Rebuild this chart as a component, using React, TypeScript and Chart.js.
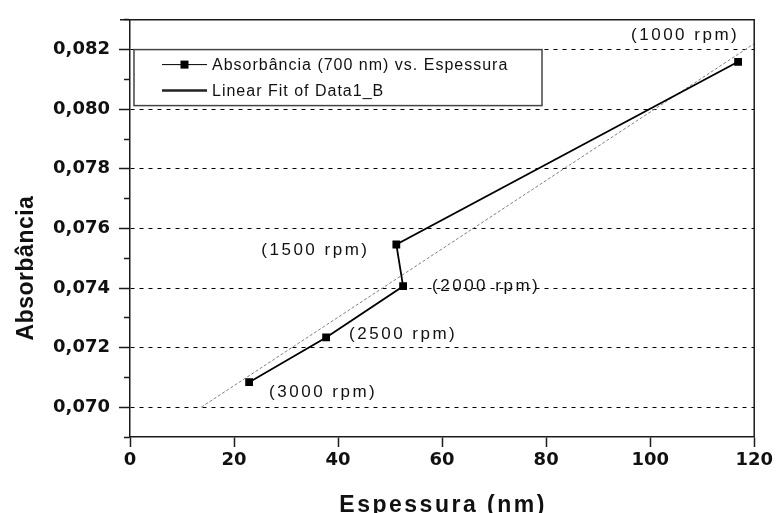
import React, { useEffect, useRef } from 'react';
import { Chart, registerables } from 'chart.js';

Chart.register(...registerables);

// ---- data ----
const rpmLabels = ['(3000 rpm)', '(2500 rpm)', '(2000 rpm)', '(1500 rpm)', '(1000 rpm)'];
const thickness = [22.9, 37.7, 52.5, 51.2, 116.9];
const absorbance = [0.07084, 0.07234, 0.07406, 0.07546, 0.08159];
const fitX = [13.7, 120];
const fitY = [0.07, 0.0822];
const xTicks = [0, 20, 40, 60, 80, 100, 120];
const yTicks = [0.069, 0.07, 0.071, 0.072, 0.073, 0.074, 0.075, 0.076, 0.077, 0.078, 0.079, 0.08, 0.081, 0.082, 0.083];
const yMajorTicks = [0.07, 0.072, 0.074, 0.076, 0.078, 0.08, 0.082];
const legendLabels = ['Absorbância (700 nm) vs. Espessura', 'Linear Fit of Data1_B'];
const xTitle = 'Espessura (nm)';
const yTitle = 'Absorbância';

// label offsets (pixels, relative to each point)
const LABEL_OFFSETS: [number, number][] = [
  [20, 10],
  [23, -3],
  [29, 0],
  [-135, 6],
  [-107, -27],
];

const isMajor = (v: number) => yMajorTicks.some((m) => Math.abs(m - v) < 1e-7);
const AXIS = '#1a1a1a';

const decorPlugin = {
  id: 'decor',
  afterDatasetsDraw(chart: any) {
    const { ctx, chartArea: a, scales } = chart;
    const x = scales.x;
    const y = scales.y;
    ctx.save();
    // top and right frame
    ctx.strokeStyle = AXIS;
    ctx.lineWidth = 1.5;
    ctx.beginPath();
    ctx.moveTo(a.left - 10, a.top);
    ctx.lineTo(a.right, a.top);
    ctx.lineTo(a.right, a.bottom);
    ctx.stroke();

    // point annotations
    ctx.font = '17px "Liberation Sans", Arial, sans-serif';
    (ctx as any).letterSpacing = '2.5px';
    ctx.fillStyle = '#111';
    ctx.textBaseline = 'middle';
    ctx.textAlign = 'left';
    rpmLabels.forEach((t, i) => {
      const px = x.getPixelForValue(thickness[i]);
      const py = y.getPixelForValue(absorbance[i]);
      const [dx, dy] = LABEL_OFFSETS[i];
      ctx.fillText(t, px + dx, py + dy);
    });

    // legend box
    const lx = a.left + 4;
    const ly = y.getPixelForValue(0.082);
    const lw = 408;
    const lh = 56;
    ctx.fillStyle = '#fff';
    ctx.fillRect(lx, ly, lw, lh);
    ctx.strokeStyle = '#444';
    ctx.lineWidth = 1.5;
    ctx.strokeRect(lx, ly, lw, lh);

    const r1 = ly + 15;
    const r2 = ly + 41;
    const s1 = lx + 28;
    const s2 = lx + 73;
    ctx.strokeStyle = '#000';
    ctx.lineWidth = 1;
    ctx.beginPath();
    ctx.moveTo(s1, r1);
    ctx.lineTo(s2, r1);
    ctx.stroke();
    ctx.fillStyle = '#000';
    ctx.fillRect((s1 + s2) / 2 - 4, r1 - 4, 8, 8);
    ctx.strokeStyle = '#222';
    ctx.lineWidth = 2.5;
    ctx.beginPath();
    ctx.moveTo(s1, r2);
    ctx.lineTo(s2, r2);
    ctx.stroke();

    ctx.font = '16px "Liberation Sans", Arial, sans-serif';
    (ctx as any).letterSpacing = '1px';
    ctx.fillStyle = '#111';
    ctx.textBaseline = 'middle';
    ctx.fillText(legendLabels[0], s2 + 5, r1 + 1);
    ctx.fillText(legendLabels[1], s2 + 5, r2 + 1);

    // axis titles
    ctx.fillStyle = '#111';
    ctx.font = 'bold 23px "Liberation Sans", Arial, sans-serif';
    (ctx as any).letterSpacing = '2.5px';
    ctx.textAlign = 'center';
    ctx.textBaseline = 'alphabetic';
    ctx.fillText(xTitle, (a.left + a.right) / 2 + 1, 512);

    ctx.save();
    ctx.translate(33, 268);
    ctx.rotate(-Math.PI / 2);
    ctx.font = 'bold 23px "Liberation Sans", Arial, sans-serif';
    (ctx as any).letterSpacing = '0.5px';
    ctx.fillText(yTitle, 0, 0);
    ctx.restore();

    ctx.restore();
  },
};

export default function App() {
  const ref = useRef<HTMLCanvasElement>(null);
  useEffect(() => {
    if (!ref.current) return;
    const chart = new Chart(ref.current, {
      type: 'scatter',
      data: {
        datasets: [
          {
            label: legendLabels[0],
            data: thickness.map((v, i) => ({ x: v, y: absorbance[i] })),
            showLine: true,
            borderColor: '#000',
            borderWidth: 1.8,
            pointStyle: 'rect',
            pointRadius: 5.5,
            pointBackgroundColor: '#000',
            pointBorderColor: '#000',
            pointBorderWidth: 0,
          },
          {
            label: legendLabels[1],
            data: fitX.map((v, i) => ({ x: v, y: fitY[i] })),
            showLine: true,
            borderColor: '#808080',
            borderWidth: 1,
            borderDash: [3, 2],
            pointRadius: 0,
          },
        ],
      },
      options: {
        animation: false,
        responsive: false,
        events: [],
        layout: { padding: { top: 16, right: 20, left: 0, bottom: 0 } },
        plugins: { legend: { display: false }, tooltip: { enabled: false } },
        scales: {
          x: {
            type: 'linear',
            min: 0,
            max: 120,
            afterBuildTicks: (s: any) => {
              s.ticks = xTicks.map((v) => ({ value: v }));
            },
            afterFit: (s: any) => {
              s.height = 76;
            },
            ticks: {
              color: '#111',
              padding: 3,
              font: { family: '"DejaVu Sans"', size: 18, weight: 'bold' },
              callback: (v: any) => String(v),
            },
            grid: {
              drawOnChartArea: false,
              color: 'rgba(0,0,0,0)',
              tickColor: AXIS,
              tickWidth: 1.5,
              tickLength: 10,
            },
            border: { color: AXIS, width: 1.5 },
          },
          y: {
            type: 'linear',
            min: 0.069,
            max: 0.083,
            afterBuildTicks: (s: any) => {
              s.ticks = yTicks.map((v) => ({ value: v }));
            },
            afterFit: (s: any) => {
              s.width = 130;
            },
            ticks: {
              color: '#111',
              padding: 9,
              font: { family: '"DejaVu Sans"', size: 18, weight: 'bold' },
              callback: (v: any) => (isMajor(Number(v)) ? Number(v).toFixed(3).replace('.', ',') : ''),
            },
            grid: {
              color: (c: any) => (c.tick && isMajor(c.tick.value) ? '#000' : 'rgba(0,0,0,0)'),
              lineWidth: 1,
              tickColor: AXIS,
              tickWidth: 1.5,
              tickLength: 11,
              tickBorderDash: (c: any) => (c.tick && isMajor(c.tick.value) ? [] : [0, 5, 100]),
            },
            border: { color: AXIS, width: 1.5, dash: [4, 5] },
          },
        },
      } as any,
      plugins: [decorPlugin],
    });
    return () => chart.destroy();
  }, []);
  return (
    <div style={{ position: 'fixed', left: 0, top: 0, width: 776, height: 513, background: '#fff' }}>
      <canvas ref={ref} width={776} height={513} style={{ display: 'block', width: 776, height: 513 }} />
    </div>
  );
}
